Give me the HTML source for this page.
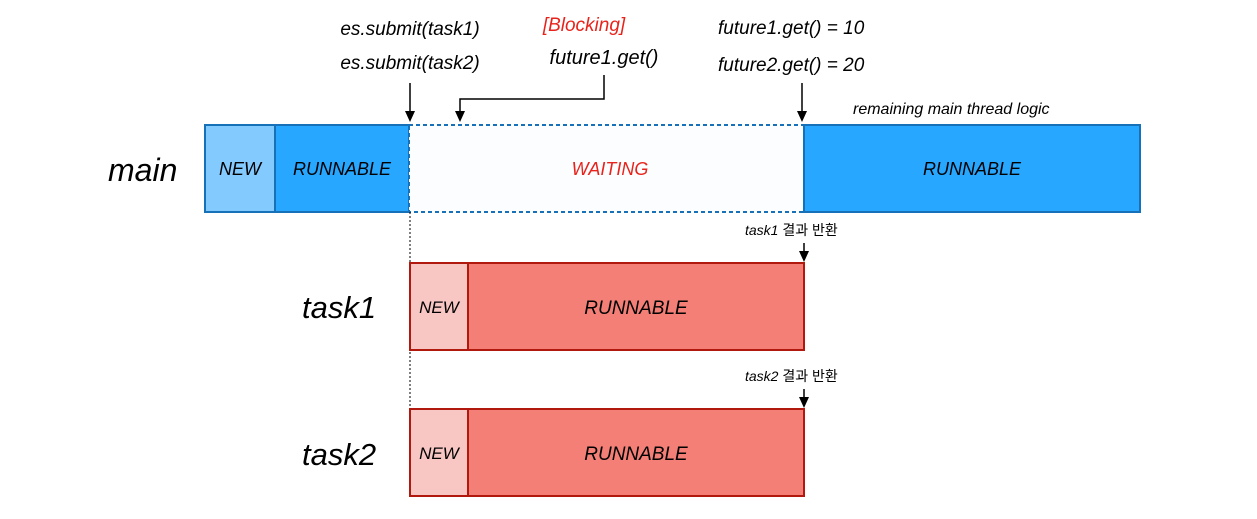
<!DOCTYPE html>
<html><head><meta charset="utf-8"><style>
html,body{margin:0;padding:0;background:#fff;width:1257px;height:519px;overflow:hidden}
text{font-family:"Liberation Sans","Noto Sans CJK KR",sans-serif;font-style:italic}
</style></head><body>
<svg width="1257" height="519" xmlns="http://www.w3.org/2000/svg">
<!-- main row -->
<rect x="205" y="125" width="70" height="87" fill="#83CAFF" stroke="#1671B8" stroke-width="2"/>
<rect x="275" y="125" width="134" height="87" fill="#27A7FF" stroke="#1671B8" stroke-width="2"/>
<rect x="409" y="125" width="395" height="87" fill="#FBFDFF" stroke="#1671B8" stroke-width="2" stroke-dasharray="4,3"/>
<rect x="804" y="125" width="336" height="87" fill="#27A7FF" stroke="#1671B8" stroke-width="2"/>
<text x="240" y="175" font-size="18" text-anchor="middle">NEW</text>
<text x="342" y="175" font-size="18" text-anchor="middle">RUNNABLE</text>
<text x="610" y="175" font-size="18" text-anchor="middle" fill="#E8231C">WAITING</text>
<text x="972" y="175" font-size="18" text-anchor="middle">RUNNABLE</text>
<text x="108" y="181" font-size="32">main</text>
<!-- dotted line -->
<line x1="410" y1="212" x2="410" y2="409" stroke="#000" stroke-width="1" stroke-dasharray="2,2"/>
<!-- task1 -->
<rect x="410" y="263" width="58" height="87" fill="#F8C6C3" stroke="#B2190E" stroke-width="2"/>
<rect x="468" y="263" width="336" height="87" fill="#F37F77" stroke="#B2190E" stroke-width="2"/>
<text x="439" y="313" font-size="17" text-anchor="middle">NEW</text>
<text x="636" y="314" font-size="19" text-anchor="middle">RUNNABLE</text>
<text x="302" y="318" font-size="31">task1</text>
<!-- task2 -->
<rect x="410" y="409" width="58" height="87" fill="#F8C6C3" stroke="#B2190E" stroke-width="2"/>
<rect x="468" y="409" width="336" height="87" fill="#F37F77" stroke="#B2190E" stroke-width="2"/>
<text x="439" y="459" font-size="17" text-anchor="middle">NEW</text>
<text x="636" y="460" font-size="19" text-anchor="middle">RUNNABLE</text>
<text x="302" y="465" font-size="31">task2</text>
<!-- top labels -->
<text x="410" y="35" font-size="19" text-anchor="middle">es.submit(task1)</text>
<text x="410" y="69" font-size="19" text-anchor="middle">es.submit(task2)</text>
<text x="584" y="31" font-size="19" text-anchor="middle" fill="#E8231C">[Blocking]</text>
<text x="604" y="64" font-size="20" text-anchor="middle">future1.get()</text>
<text x="718" y="34" font-size="19">future1.get() = 10</text>
<text x="718" y="71" font-size="19">future2.get() = 20</text>
<text x="853" y="114" font-size="16">remaining main thread logic</text>
<text x="745" y="235" font-size="14"><tspan>task1</tspan><tspan font-style="normal"> 결과 반환</tspan></text>
<text x="745" y="381" font-size="14"><tspan>task2</tspan><tspan font-style="normal"> 결과 반환</tspan></text>
<!-- arrows -->
<g stroke="#000" stroke-width="1.5" fill="none">
<line x1="410" y1="83" x2="410" y2="112"/>
<polyline points="604,75 604,99 460,99 460,112"/>
<line x1="802" y1="83" x2="802" y2="112"/>
<line x1="804" y1="243" x2="804" y2="252"/>
<line x1="804" y1="389" x2="804" y2="398"/>
</g>
<g fill="#000">
<path d="M405,111 L415,111 L410,122 z"/>
<path d="M455,111 L465,111 L460,122 z"/>
<path d="M797,111 L807,111 L802,122 z"/>
<path d="M799,251 L809,251 L804,262 z"/>
<path d="M799,397 L809,397 L804,408 z"/>
</g>
</svg>
</body></html>
